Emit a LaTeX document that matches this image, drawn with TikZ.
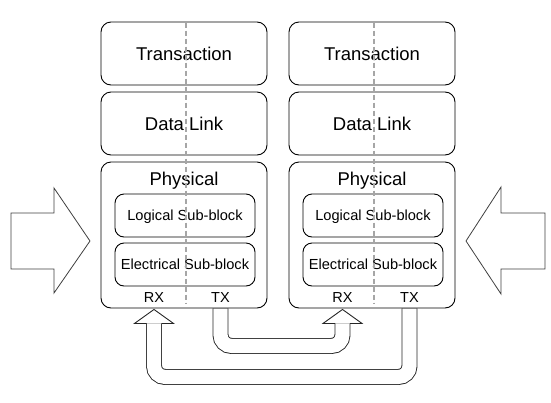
\documentclass[tikz,border=0pt]{standalone}
\usepackage{fontspec}
\setmainfont{Liberation Sans}
\usetikzlibrary{calc,backgrounds}

\tikzset{
  layer box/.style={draw, rounded corners=10pt, minimum width=166pt, minimum height=63pt, line width=0.9pt, font=\fontsize{18.5}{20}\selectfont, text depth=0pt},
  sub box/.style={draw, rounded corners=9pt, minimum width=140pt, minimum height=43pt, line width=0.9pt, font=\fontsize{14.6}{16}\selectfont, text depth=0pt},
  port/.style={font=\fontsize{14.5}{16}\selectfont, text depth=0pt, inner sep=0pt},
  divider/.style={gray!70, line width=1.3pt, dash pattern=on 5pt off 3pt},
  hollow/.style={black!85, line width=0.9pt},
  pipe/.style={black!85, line width=0.9pt, double=white, double distance=14.1pt, rounded corners=11pt},
  big arrow/.style={black!75, line width=0.8pt, fill=white},
}

\begin{document}
\begin{tikzpicture}[x=1pt, y=-1pt]
\useasboundingbox (0,0) rectangle (551,402);

% Left stack
\node[layer box] (transL) at (184,53.5) {Transaction};
\node[layer box] (linkL) at (184,123.5) {Data Link};
\node[layer box, minimum height=146pt] (physL) at (184,235) {};
\node[font=\fontsize{18.5}{20}\selectfont, text depth=0pt] (physLbl) at (184,179) {Physical};
\node[sub box] (logL) at (185,215.5) {Logical Sub-block};
\node[sub box] (elecL) at (185,264.5) {Electrical Sub-block};
\node[port] (rxL) at (154,298) {RX};
\node[port] (txL) at (220.5,298) {TX};

% Right stack
\node[layer box] (transR) at (372,53.5) {Transaction};
\node[layer box] (linkR) at (372,123.5) {Data Link};
\node[layer box, minimum height=146pt] (physR) at (372,235) {};
\node[font=\fontsize{18.5}{20}\selectfont, text depth=0pt] (physRlbl) at (372,179) {Physical};
\node[sub box] (logR) at (373,215.5) {Logical Sub-block};
\node[sub box] (elecR) at (373,264.5) {Electrical Sub-block};
\node[port] (rxR) at (342.5,298) {RX};
\node[port] (txR) at (409.5,298) {TX};

% RX / TX split
\draw[divider] ($(transL.north)+(2,1)$) -- ($(physL.south)+(2,-4)$);
\draw[divider] ($(transR.north)+(2,1)$) -- ($(physR.south)+(2,-4)$);

% Incoming arrows at both sides
\draw[big arrow] (11,213) -- (54,213) -- (54,188) -- (90,241) -- (54,293) -- (54,269) -- (11,269) -- cycle;
\draw[big arrow] (545,213) -- (501,213) -- (501,187) -- (466,241) -- (501,294) -- (501,269) -- (545,269) -- cycle;

% Link between the two ports
\coordinate (headA) at ($(physR.south -| rxR)+(0,1)$);
\coordinate (headB) at ($(physL.south -| rxL)+(0,1)$);
\begin{scope}[on background layer]
\draw[pipe] (physL.south -| txL) -- ++(0,37.5) -| ($(headA)+(0,14)$);
\draw[pipe] (physR.south -| txR) -- ++(0,68.5) -| ($(headB)+(0,14)$);
\end{scope}
\draw[hollow] ($(headA)+(-7.5,14)$) -- ++(-12,0) -- (headA) -- ($(headA)+(19.5,14)$) -- ++(-12,0);
\draw[hollow] ($(headB)+(-7.5,14)$) -- ++(-12,0) -- (headB) -- ($(headB)+(19.5,14)$) -- ++(-12,0);
\end{tikzpicture}
\end{document}
